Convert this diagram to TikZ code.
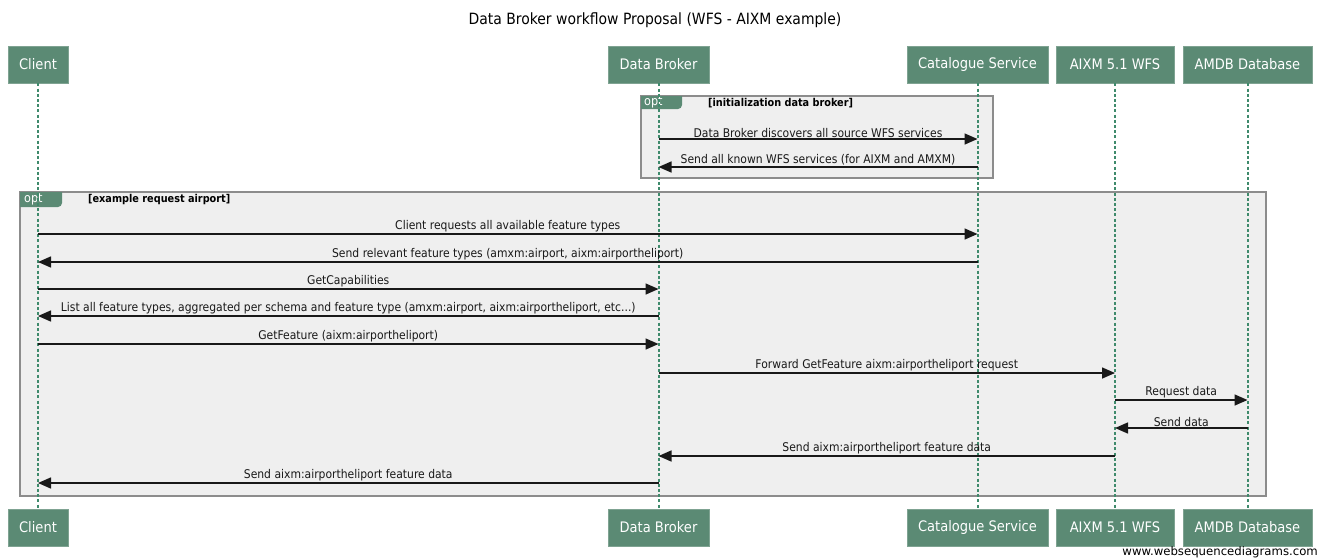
\documentclass[tikz,border=0pt]{standalone}
\usepackage{fontspec}
\setmainfont{DejaVu Sans Condensed}
\newfontfamily\wideface{DejaVu Sans}
\usetikzlibrary{arrows.meta}

\definecolor{boxgreen}{HTML}{5B8A74}
\definecolor{boxedge}{HTML}{7FA392}
\definecolor{lifegreen}{HTML}{3F8A6C}
\definecolor{framefill}{HTML}{EFEFEF}
\definecolor{frameedge}{HTML}{8C8C8C}

\tikzset{
  actor/.style={fill=boxgreen, draw=boxedge, line width=0.8pt, text=white,
    minimum height=37pt, inner sep=0pt, font=\fontsize{14.5}{16}\selectfont},
  life/.style={draw=lifegreen, line width=2pt, dash pattern=on 3pt off 2.2pt},
  msg/.style={-{Triangle[length=13pt,width=11pt]}, line width=1.5pt, black!90},
  lbl/.style={above, inner sep=1pt, text=black!90, font=\fontsize{12}{14}\selectfont},
  framebox/.style={fill=framefill, draw=frameedge, line width=1.4pt},
  tab/.style={fill=boxgreen},
  tabtext/.style={text=white, inner sep=0pt, font=\fontsize{12.5}{14}\selectfont},
  guard/.style={inner sep=0pt, anchor=west, font=\bfseries\fontsize{10.8}{12}\selectfont},
}

\begin{document}
\begin{tikzpicture}[x=1pt, y=-1pt]
\useasboundingbox (0,0) rectangle (1327,558);

% title
\node[font=\fontsize{15.5}{18}\selectfont] (title) at (655,20) {Data Broker workflow Proposal (WFS - AIXM example)};

% interaction frames with their "opt" tabs
\draw[framebox] (641,96) rectangle (993,178);
\fill[tab] (641,96) -- (682,96) -- (682,105) arc[start angle=0, end angle=-90, radius=4pt] -- (641,109) -- cycle;
\node[tabtext, anchor=west] (opt1) at (644,102.5) {opt};
\node[guard] (g1) at (708,103) {[initialization data broker]};

\draw[framebox] (20,192) rectangle (1266,496);
\fill[tab] (20,192) -- (62,192) -- (62,203) arc[start angle=0, end angle=-90, radius=4pt] -- (20,207) -- cycle;
\node[tabtext, anchor=west] (opt2) at (24,199.5) {opt};
\node[guard] (g2) at (88,200) {[example request airport]};

% participants, top and bottom, joined by their lifelines
\foreach \n/\t/\x/\w in {c/Client/38/60, db/Data Broker/658.5/101, cs/Catalogue Service/977.5/141, ws/AIXM 5.1 WFS/1115/118, am/AMDB Database/1247.5/129}{
  \node[actor, minimum width=\w pt] (\n T) at (\x,64.5) {\t};
  \node[actor, minimum width=\w pt] (\n B) at (\x,527.5) {\t};
  \draw[life] (\n T.south) -- (\n B.north);
}

% message rows
\foreach \r/\y in {1/139, 2/167, 3/234, 4/262, 5/289, 6/316, 7/344, 8/373, 9/400, 10/428, 11/456, 12/483}{
  \coordinate (r\r) at (0,\y);
}

\draw[msg] (dbT |- r1) -- node[lbl] {Data Broker discovers all source WFS services} (csT |- r1);
\draw[msg] (csT |- r2) -- node[lbl] {Send all known WFS services (for AIXM and AMXM)} (dbT |- r2);
\draw[msg] (cT |- r3) -- node[lbl] {Client requests all available feature types} (csT |- r3);
\draw[msg] (csT |- r4) -- node[lbl] {Send relevant feature types (amxm:airport, aixm:airportheliport)} (cT |- r4);
\draw[msg] (cT |- r5) -- node[lbl] {GetCapabilities} (dbT |- r5);
\draw[msg] (dbT |- r6) -- node[lbl] {List all feature types, aggregated per schema and feature type (amxm:airport, aixm:airportheliport, etc...)} (cT |- r6);
\draw[msg] (cT |- r7) -- node[lbl] {GetFeature (aixm:airportheliport)} (dbT |- r7);
\draw[msg] (dbT |- r8) -- node[lbl] {Forward GetFeature aixm:airportheliport request} (wsT |- r8);
\draw[msg] (wsT |- r9) -- node[lbl] {Request data} (amT |- r9);
\draw[msg] (amT |- r10) -- node[lbl] {Send data} (wsT |- r10);
\draw[msg] (wsT |- r11) -- node[lbl] {Send aixm:airportheliport feature data} (dbT |- r11);
\draw[msg] (dbT |- r12) -- node[lbl] {Send aixm:airportheliport feature data} (cT |- r12);

% footer
\node[anchor=east, inner sep=0pt, font=\wideface\fontsize{11.7}{13}\selectfont] (mark) at (1318,552) {www.websequencediagrams.com};
\end{tikzpicture}
\end{document}
